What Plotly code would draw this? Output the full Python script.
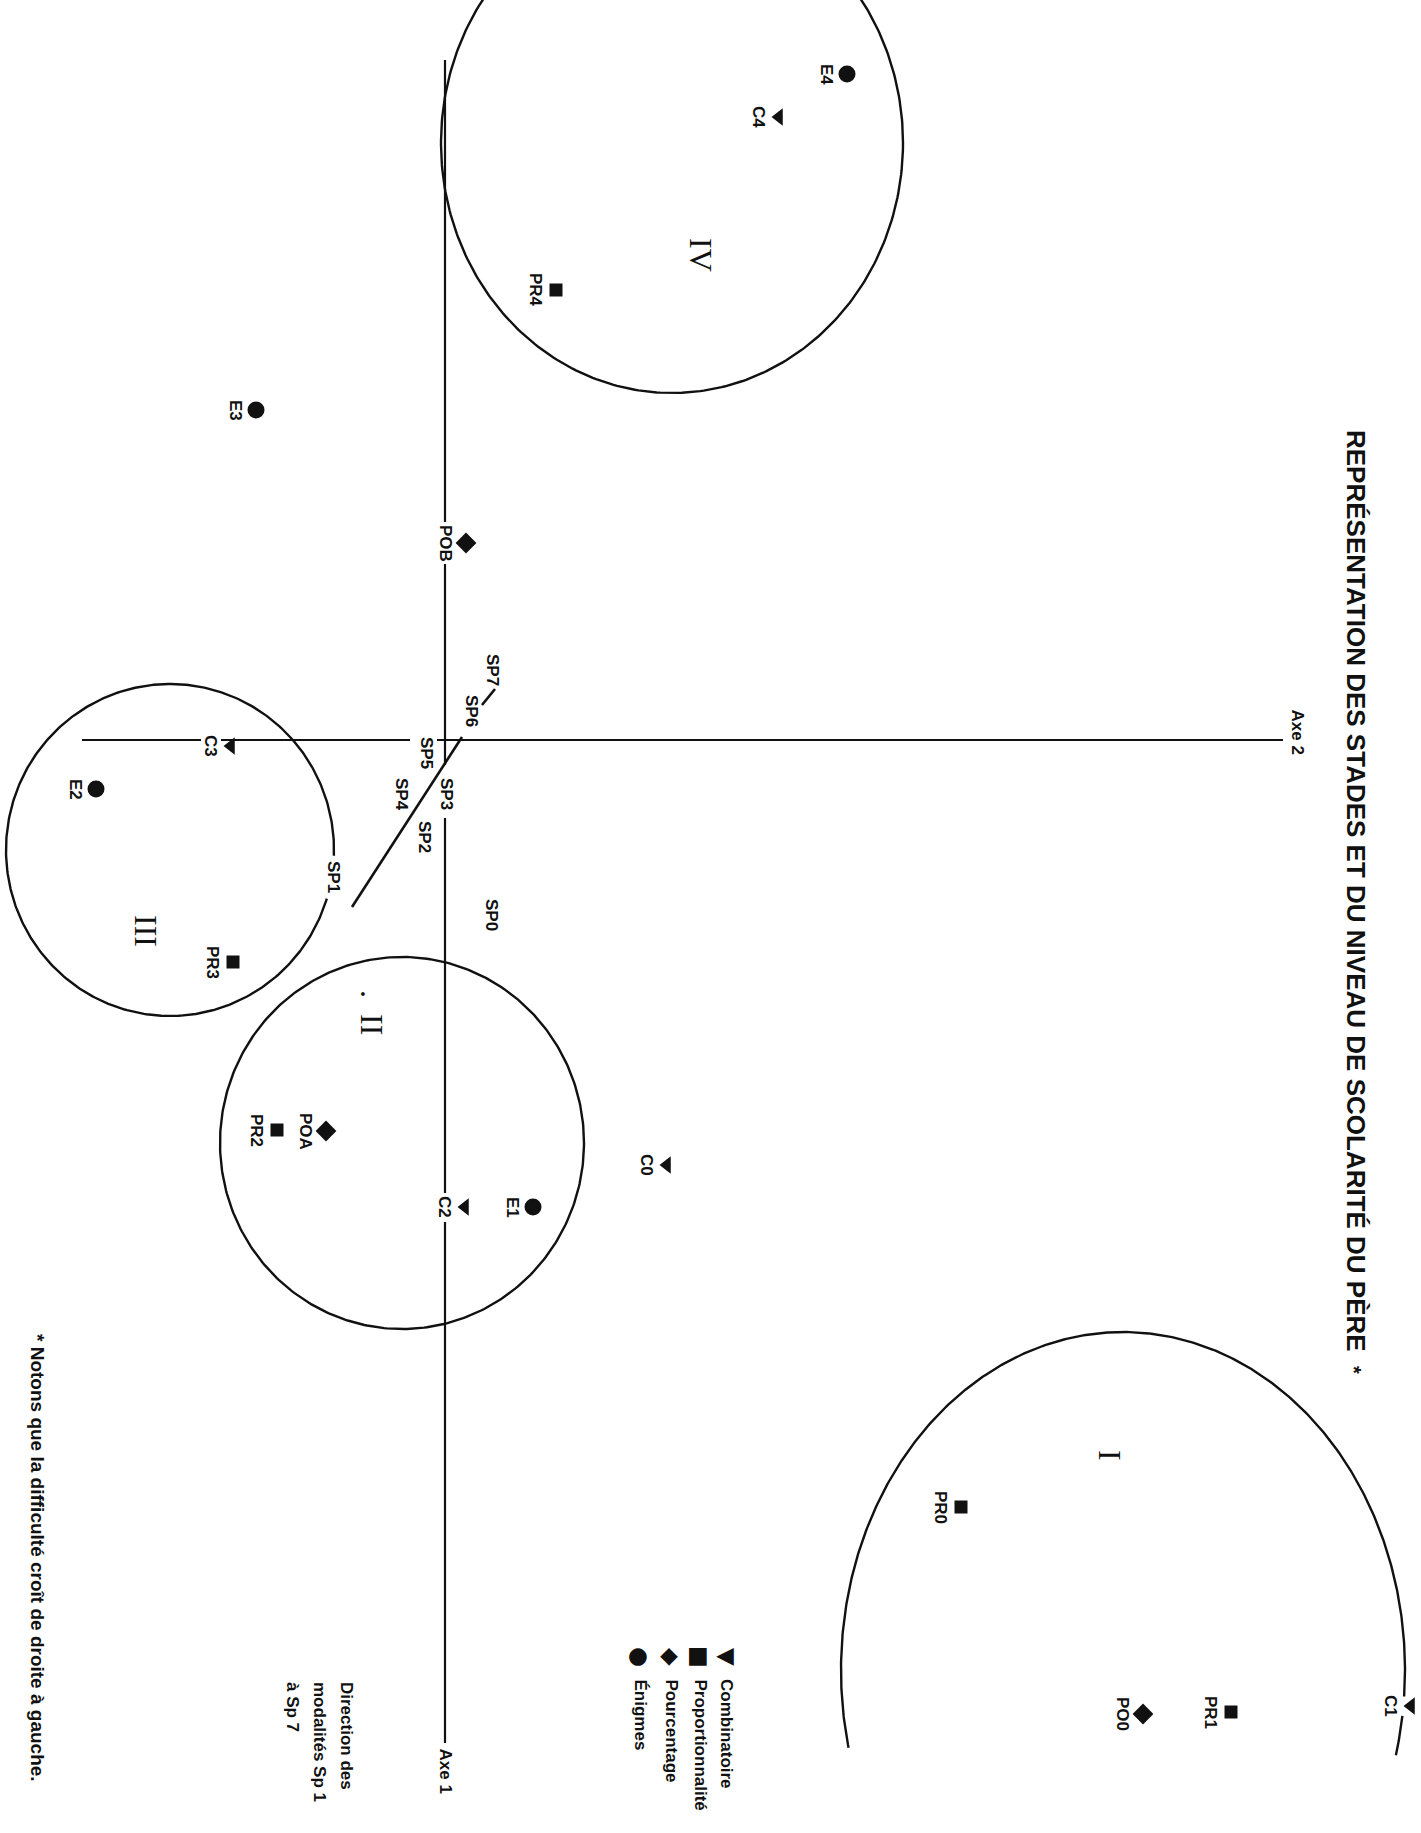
import numpy as np
import plotly.graph_objects as go

# ---------------- DATA (factor plane; page is rotated: Axe 2 runs left->right, Axe 1 runs top->bottom) -------------
comb_labels = ["C0", "C1", "C2", "C3", "C4"]
comb_axe2 = [2.22, 9.66, 0.20, -2.14, 3.34]
comb_axe1 = [4.25, 9.66, 4.67, 0.06, -6.23]

prop_labels = ["PR0", "PR1", "PR2", "PR3", "PR4"]
prop_axe2 = [5.16, 7.86, -1.68, -2.12, 1.11]
prop_axe1 = [7.67, 9.72, 3.90, 2.22, -4.50]

pourc_labels = ["PO0", "POA", "POB"]
pourc_axe2 = [6.98, -1.19, 0.21]
pourc_axe1 = [9.74, 3.91, -1.97]

enig_labels = ["E1", "E2", "E3", "E4"]
enig_axe2 = [0.88, -3.49, -1.89, 4.02]
enig_axe1 = [4.67, 0.49, -3.30, -6.66]

sp_labels = ["SP0", "SP1", "SP2", "SP3", "SP4", "SP5", "SP6", "SP7"]
sp_axe2 = [0.47, -1.11, -0.20, 0.02, -0.43, -0.18, 0.27, 0.48]
sp_axe1 = [1.75, 1.37, 0.97, 0.54, 0.54, 0.13, -0.29, -0.70]

# direction of the Sp modalities (segment SP1 -> SP6, and small dash SP6 -> SP7)
dir_axe2 = [-0.93, 0.17]
dir_axe1 = [1.67, -0.03]
dash_axe2 = [0.37, 0.50]
dash_axe1 = [-0.35, -0.51]

# stages (clusters)
stage_labels = ["I", ".  II", "III", "IV"]
stage_cx = [6.78, -0.43, -2.75, 2.27]
stage_cy = [9.30, 4.03, 1.10, -5.97]
stage_rx = [2.82, 1.82, 1.64, 2.31]
stage_ry = [3.38, 1.86, 1.66, 2.50]
stage_arcs = [[(-14.6, -7.8), (-4.5, 193.3)], [(0, 360)], [(-2, 343)], [(0, 360)]]
stage_lab_axe2 = [6.65, -0.73, -2.99, 2.56]
stage_lab_axe1 = [7.15, 2.72, 1.91, -4.85]

# axes extents and gaps (where labels interrupt the lines)
axe1_min, axe1_max = -6.80, 10.03
axe1_gaps = [(-2.18, -1.76), (0.25, 0.78), (4.53, 4.82)]
axe2_min, axe2_max = -3.63, 8.38
axe2_gaps = [(-2.44, -2.24), (-0.35, -0.08)]

title = "REPRÉSENTATION DES STADES ET DU NIVEAU DE SCOLARITÉ DU PÈRE"
footnote = "* Notons que la difficulté croît de droite à gauche."
legend_names = ["Combinatoire", "Proportionnalité", "Pourcentage", "Énigmes"]
legend_glyphs = ["▼", "■", "◆", "●"]
direction_lines = ["Direction des", "modalités Sp 1", "à Sp 7"]

# ---------------- FIGURE -------------
W, H = 1421, 1833
X_RANGE = [-4.45, 9.76]
Y_RANGE = [10.93, -7.40]
BLACK = "#111111"
SANS = "Liberation Sans, Arial, Helvetica, sans-serif"
SERIF = "Liberation Serif, Times New Roman, serif"

fig = go.Figure()


def segments(lo, hi, gaps):
    pts = []
    start = lo
    for g0, g1 in gaps:
        pts.append((start, g0))
        start = g1
    pts.append((start, hi))
    return pts


# axis lines
xs, ys = [], []
for a, b in segments(axe1_min, axe1_max, axe1_gaps):
    xs += [0, 0, None]
    ys += [a, b, None]
for a, b in segments(axe2_min, axe2_max, axe2_gaps):
    xs += [a, b, None]
    ys += [0, 0, None]
fig.add_trace(go.Scatter(x=xs, y=ys, mode="lines", line=dict(color=BLACK, width=2.2),
                         hoverinfo="skip", showlegend=False))

# direction line
fig.add_trace(go.Scatter(x=dir_axe2 + [None] + dash_axe2, y=dir_axe1 + [None] + dash_axe1, mode="lines",
                         line=dict(color=BLACK, width=2.6), hoverinfo="skip", showlegend=False))

# stage ellipses
for cx, cy, rx, ry, arcs in zip(stage_cx, stage_cy, stage_rx, stage_ry, stage_arcs):
    xs, ys = [], []
    for t0, t1 in arcs:
        t = np.radians(np.linspace(t0, t1, 400))
        xs += list(cx + rx * np.cos(t)) + [None]
        ys += list(cy - ry * np.sin(t)) + [None]
    fig.add_trace(go.Scatter(x=xs, y=ys, mode="lines", line=dict(color=BLACK, width=2.4),
                             hoverinfo="skip", showlegend=False))

# points
groups = [
    (comb_labels, comb_axe2, comb_axe1, "triangle-left", 15),
    (prop_labels, prop_axe2, prop_axe1, "square", 13),
    (pourc_labels, pourc_axe2, pourc_axe1, "diamond", 16),
    (enig_labels, enig_axe2, enig_axe1, "circle", 17),
]
annotations = []
LABEL_FONT = dict(family=SANS, size=17, color=BLACK)
for labels, xv, yv, sym, size in groups:
    fig.add_trace(go.Scatter(x=xv, y=yv, mode="markers", cliponaxis=False,
                             marker=dict(symbol=sym, size=size, color=BLACK, line=dict(width=0)),
                             hoverinfo="skip", showlegend=False))
    for lab, x, y in zip(labels, xv, yv):
        annotations.append(dict(x=x, y=y, text="<b>" + lab + "</b>", showarrow=False, textangle=90, xshift=-20,
                                xanchor="center", yanchor="middle", font=LABEL_FONT))

for lab, x, y in zip(sp_labels, sp_axe2, sp_axe1):
    annotations.append(dict(x=x, y=y, text="<b>" + lab + "</b>", showarrow=False, textangle=90,
                            xanchor="center", yanchor="middle", font=LABEL_FONT))

for lab, x, y in zip(stage_labels, stage_lab_axe2, stage_lab_axe1):
    annotations.append(dict(x=x, y=y, text=lab, showarrow=False, textangle=90,
                            xanchor="center", yanchor="middle",
                            font=dict(family=SERIF, size=32, color=BLACK)))

# axis names
annotations.append(dict(x=0, y=axe1_max, text="<b>Axe 1</b>", showarrow=False, textangle=90,
                        xanchor="center", yanchor="top", yshift=-3,
                        font=dict(family=SANS, size=17, color=BLACK)))
annotations.append(dict(x=axe2_max, y=0, text="<b>Axe 2</b>", showarrow=False, textangle=90,
                        xanchor="left", yanchor="middle", xshift=3, yshift=8,
                        font=dict(family=SANS, size=17, color=BLACK)))


# title, footnote, legend, direction note (paper coordinates)
def px(x):
    return x / W


def py(y):
    return 1 - y / H


annotations.append(dict(xref="paper", yref="paper", x=px(1356), y=py(428),
                        text="<b>" + title + "</b>  <b><span style='font-size:20px'>*</span></b>",
                        showarrow=False, textangle=90, xanchor="center", yanchor="top",
                        font=dict(family=SANS, size=26, color=BLACK)))
annotations.append(dict(xref="paper", yref="paper", x=px(38), y=py(1332), text="<b>" + footnote + "</b>",
                        showarrow=False, textangle=90, xanchor="center", yanchor="top",
                        font=dict(family=SANS, size=19, color=BLACK)))
for line, lx in zip(direction_lines, [347, 320, 293]):
    annotations.append(dict(xref="paper", yref="paper", x=px(lx), y=py(1680),
                            text="<b>" + line + "</b>",
                            showarrow=False, textangle=90, xanchor="center", yanchor="top",
                            font=dict(family=SANS, size=17, color=BLACK)))
leg_x = [727, 700, 671, 640]
for name, glyph, lx in zip(legend_names, legend_glyphs, leg_x):
    annotations.append(dict(xref="paper", yref="paper", x=px(lx), y=py(1657), text=glyph,
                            showarrow=False, textangle=90, xanchor="center", yanchor="middle",
                            font=dict(family="DejaVu Sans", size=23, color=BLACK)))
    annotations.append(dict(xref="paper", yref="paper", x=px(lx), y=py(1677), text="<b>" + name + "</b>",
                            showarrow=False, textangle=90, xanchor="center", yanchor="top",
                            font=dict(family=SANS, size=17, color=BLACK)))

fig.update_layout(
    width=W, height=H, margin=dict(l=0, r=0, t=0, b=0),
    paper_bgcolor="white", plot_bgcolor="white",
    xaxis=dict(range=X_RANGE, visible=False, showgrid=False, zeroline=False, fixedrange=True),
    yaxis=dict(range=Y_RANGE, visible=False, showgrid=False, zeroline=False, fixedrange=True),
    annotations=annotations,
    showlegend=False,
)

fig.write_html("out.html", config={"displayModeBar": False},
               post_script="document.body.style.margin='0';document.body.style.overflow='hidden';")
